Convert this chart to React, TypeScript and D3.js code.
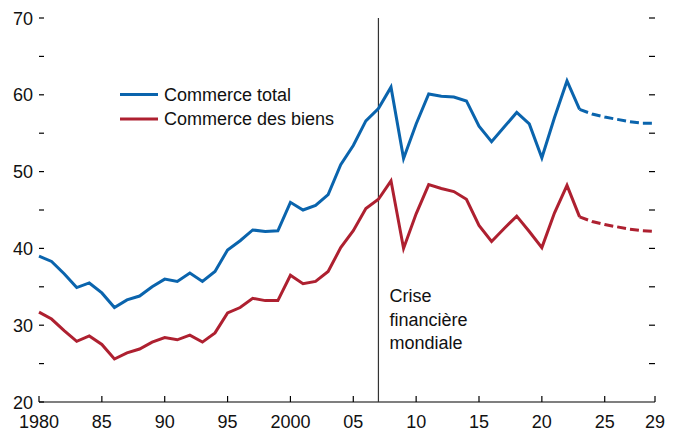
import React, { useEffect, useRef } from "react";
import * as d3 from "d3";

const years = d3.range(1980, 2030);
// last actual year, after it the lines are projections (dashed)
const lastActual = 2023;
const crisisYear = 2007;

const totalTrade = [
  39.0, 38.3, 36.7, 34.9, 35.5, 34.2, 32.3, 33.3, 33.8, 35.0,
  36.0, 35.7, 36.8, 35.7, 37.0, 39.8, 41.0, 42.4, 42.2, 42.3,
  46.0, 45.0, 45.6, 47.0, 50.9, 53.4, 56.6, 58.2, 61.0, 51.7,
  56.2, 60.1, 59.8, 59.7, 59.2, 55.9, 53.9, 55.8, 57.7, 56.2,
  51.8, 57.0, 61.8, 58.1, 57.5, 57.1, 56.8, 56.5, 56.3, 56.3,
];
const goodsTrade = [
  31.7, 30.8, 29.3, 27.9, 28.6, 27.5, 25.6, 26.4, 26.9, 27.8,
  28.4, 28.1, 28.7, 27.8, 29.0, 31.6, 32.3, 33.5, 33.2, 33.2,
  36.5, 35.4, 35.7, 37.0, 40.1, 42.3, 45.2, 46.4, 48.8, 40.0,
  44.5, 48.3, 47.8, 47.4, 46.4, 43.0, 40.9, 42.6, 44.2, 42.2,
  40.1, 44.6, 48.2, 44.1, 43.5, 43.1, 42.8, 42.5, 42.3, 42.2,
];

const seriesNames = ["Commerce total", "Commerce des biens"];
const seriesColors = ["#0a64ad", "#ae2030"];
const yTicks = [20, 30, 40, 50, 60, 70];
const yMinorTicks = [25, 35, 45, 55, 65];
const xTicks = [1980, 1985, 1990, 1995, 2000, 2005, 2010, 2015, 2020, 2025, 2029];
const xTickLabels = ["1980", "85", "90", "95", "2000", "05", "10", "15", "20", "25", "29"];
const crisisLabel = ["Crise", "financière", "mondiale"];

const FONT = "'Liberation Sans', Arial, sans-serif";

export default function App() {
  const ref = useRef<SVGSVGElement>(null);

  useEffect(() => {
    const W = 678, H = 432;
    const margin = { top: 18, right: 23, bottom: 30, left: 39 };
    const w = W - margin.left - margin.right;
    const h = H - margin.top - margin.bottom;

    const svg = d3.select(ref.current).attr("width", W).attr("height", H);
    const g = svg.selectAll(".plot").data([0]).join("g").attr("class", "plot")
      .attr("transform", `translate(${margin.left}, ${margin.top})`);

    const x = d3.scaleLinear().domain([1980, 2029]).range([0, w]);
    const y = d3.scaleLinear().domain([20, 70]).range([h, 0]);

    // Left ticks + labels
    const allY = [...yTicks, ...yMinorTicks];
    g.selectAll(".ytick").data(allY).join("line").attr("class", "ytick")
      .attr("x1", 0).attr("x2", 5)
      .attr("y1", d => y(d)).attr("y2", d => y(d))
      .attr("stroke", "#000").attr("stroke-width", 1.2);
    g.selectAll(".ylab").data(yTicks).join("text").attr("class", "ylab")
      .attr("x", -6).attr("y", d => y(d) + 6.5)
      .attr("text-anchor", "end")
      .style("font-family", FONT).style("font-size", "18px")
      .attr("fill", "#111")
      .text(d => String(d));

    // Right ticks
    g.selectAll(".rtick").data(allY.filter(d => d > 20)).join("line").attr("class", "rtick")
      .attr("x1", w - 6).attr("x2", w)
      .attr("y1", d => y(d)).attr("y2", d => y(d))
      .attr("stroke", "#000").attr("stroke-width", 1.2);

    // X axis
    g.selectAll(".xaxis").data([0]).join("line").attr("class", "xaxis")
      .attr("x1", 0).attr("x2", w).attr("y1", h).attr("y2", h)
      .attr("stroke", "#000").attr("stroke-width", 1.2);
    g.selectAll(".xtick").data(xTicks).join("line").attr("class", "xtick")
      .attr("x1", d => x(d)).attr("x2", d => x(d))
      .attr("y1", h).attr("y2", h - 6)
      .attr("stroke", "#000").attr("stroke-width", 1.2);
    g.selectAll(".xlab").data(xTicks).join("text").attr("class", "xlab")
      .attr("x", d => x(d)).attr("y", h + 25.5)
      .attr("text-anchor", "middle")
      .style("font-family", FONT).style("font-size", "18px")
      .attr("fill", "#111")
      .text((d, i) => xTickLabels[i]);

    // Crisis line
    g.selectAll(".crisis").data([crisisYear]).join("line").attr("class", "crisis")
      .attr("x1", d => x(d)).attr("x2", d => x(d))
      .attr("y1", 0).attr("y2", h)
      .attr("stroke", "#333").attr("stroke-width", 1.2);
    g.selectAll(".crisisLab").data(crisisLabel).join("text").attr("class", "crisisLab")
      .attr("x", x(crisisYear) + 11)
      .attr("y", (d, i) => 283.7 + i * 23.8)
      .style("font-family", FONT).style("font-size", "18px")
      .attr("fill", "#111")
      .text(d => d);

    // Lines
    const series = [totalTrade, goodsTrade];
    const line = d3.line<[number, number]>().x(d => x(d[0])).y(d => y(d[1]));
    const solid = series.map(s => years.map((yr, i) => [yr, s[i]] as [number, number]).filter(d => d[0] <= lastActual));
    const dashed = series.map(s => years.map((yr, i) => [yr, s[i]] as [number, number]).filter(d => d[0] >= lastActual));

    g.selectAll(".solid").data(solid).join("path").attr("class", "solid")
      .attr("d", d => line(d))
      .attr("fill", "none")
      .attr("stroke", (d, i) => seriesColors[i])
      .attr("stroke-width", 3)
      .attr("stroke-linejoin", "miter");
    g.selectAll(".dashed").data(dashed).join("path").attr("class", "dashed")
      .attr("d", d => line(d))
      .attr("fill", "none")
      .attr("stroke", (d, i) => seriesColors[i])
      .attr("stroke-width", 3)
      .attr("stroke-dasharray", "9,4");

    // Legend
    const legend = svg.selectAll(".legend").data(seriesNames).join("g").attr("class", "legend")
      .attr("transform", (d, i) => `translate(120, ${94.5 + i * 24.5})`);
    legend.selectAll("line").data(d => [d]).join("line")
      .attr("x1", 0).attr("x2", 38).attr("y1", 0).attr("y2", 0)
      .attr("stroke", (d) => seriesColors[seriesNames.indexOf(d)])
      .attr("stroke-width", 3);
    legend.selectAll("text").data(d => [d]).join("text")
      .attr("x", 44).attr("y", 6.3)
      .style("font-family", FONT).style("font-size", "18px")
      .attr("fill", "#111")
      .text(d => d);
  }, []);

  return (
    <svg ref={ref} style={{ position: "absolute", left: 0, top: 0, background: "#fff" }}>
    </svg>
  );
}
